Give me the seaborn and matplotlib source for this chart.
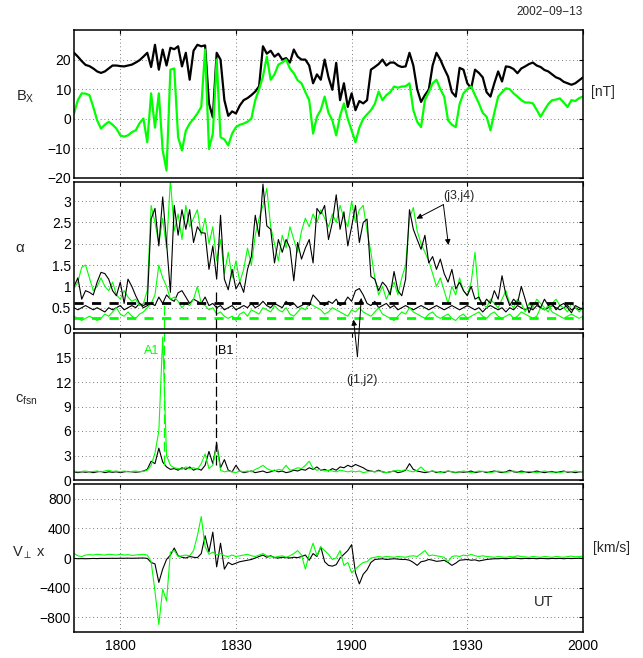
import numpy as np
import pandas as pd
import matplotlib
matplotlib.use("Agg")
import matplotlib.pyplot as plt
import seaborn as sns

sns.set_style("white")
plt.rcParams["font.family"] = ["Liberation Sans", "DejaVu Sans"]
plt.rcParams["mathtext.fontset"] = "custom"
plt.rcParams["mathtext.rm"] = "Liberation Sans"
plt.rcParams["mathtext.it"] = "Liberation Sans:italic"
plt.rcParams["axes.unicode_minus"] = True

# time axis: minutes of day, one sample per minute from 17:48 to 20:00
minutes = np.arange(1068, 1201)

tick_times = [1080, 1110, 1140, 1170, 1200]
tick_labels = ["1800", "1830", "1900", "1930", "2000"]

# panel 1 - Bx [nT]
bx_black = [22.3, 21, 19.5, 18.2, 17.8, 17, 16, 15.5, 16, 17,
            18, 18, 17.8, 17.7, 18, 18.3, 19, 19.8, 21, 22.3,
            17.5, 25, 16.6, 23.4, 18, 24, 23.5, 24.5, 17.7, 22.3,
            13.2, 23, 25, 24.5, 24.8, 5.2, 0.5, 22.3, 20, 6.3,
            1, 2.5, 1.8, 4.5, 6.3, 7, 8, 9.2, 11, 24.5,
            22, 23, 21, 22, 20, 20.5, 19, 23.4, 21, 20,
            20, 18, 12, 15, 13.2, 20, 14, 9.8, 18.9, 6.3,
            12, 4, 8.6, 2.9, 6, 5.2, 6.3, 16.6, 17.5, 18.5,
            20, 18, 19, 19, 18, 17.5, 17.7, 22.3, 18, 10,
            5.7, 8, 9.8, 18, 22.3, 20, 17, 14.3, 9, 7.5,
            17.2, 16.6, 12, 10.3, 16.6, 15.5, 14, 9, 7.5, 12,
            16, 12.6, 17.7, 17.5, 16.8, 15.4, 17, 17.7, 18.5, 19,
            18, 17.5, 16.5, 16, 15, 14, 13.5, 12.5, 12, 11.5,
            12, 13, 14]
bx_green = [1.8, 6.3, 8.6, 8.5, 8, 4, -0.5, -3.3, -2, -1,
            -2, -3.3, -5.6, -6, -5.6, -4.5, -3.9, -1.5, 0.1, -7.9,
            8.6, -3, 8.6, -10.7, -17.5, 16.6, 17, -6.2, -10.7, -4,
            -1.6, 0, 1.8, 4, 23.4, -10.2, -5, 20, -6.2, -7,
            -9, -5, -2.8, -2, -1.6, -1, 0.1, 6.3, 10, 14.3,
            21, 13.2, 15, 18.3, 19, 20, 17, 15.4, 13, 12,
            9, 6.3, -5, 0.7, 3, 7.5, 2, -0.5, -5.6, 1,
            5.2, 0, -3.9, -7.9, -3, 0, 1.5, 2.9, 5, 9.2,
            6.3, 8, 9, 10.9, 10.5, 10.9, 11, 12, 2.9, -1,
            -2.8, 6.3, 9, 12, 13.2, 10, 7.5, -0.5, -2, -2.8,
            5, 8.6, 10, 10.9, 8, 5.2, 2, 0.7, -3.9, 2,
            7.5, 9, 10.3, 10, 8.6, 7.5, 6.3, 5.5, 5.5, 5.2,
            3, 0.7, 2.9, 5, 6.3, 6.5, 6.9, 5.5, 4, 6.3,
            6, 7, 7.5]

# panel 2 - alpha for the four spacecraft pairs
alpha_j3 = [1.0, 1.2, 0.7, 0.9, 0.86, 0.8, 1.1, 1.33, 1.3, 1.17,
            0.9, 0.78, 1.1, 0.6, 1.17, 1.0, 0.78, 0.6, 0.55, 0.6,
            2.58, 2.83, 1.95, 3.1, 2.03, 0.86, 2.9, 2.2, 2.8, 2.34,
            2.8, 2.03, 2.4, 2.26, 2.25, 1.4, 1.95, 1.17, 2.67, 1.17,
            0.92, 1.4, 0.94, 1.1, 0.86, 1.4, 1.7, 2.67, 2.17, 3.4,
            2.42, 2.34, 1.55, 2.1, 1.8, 2.1, 1.9, 1.13, 2.03, 1.64,
            1.9, 2.1, 1.55, 2.83, 2.7, 2.9, 2.1, 2.5, 3.15, 2.34,
            2.75, 1.95, 2.4, 2.9, 2.03, 2.5, 2.58, 1.23, 1.17, 0.9,
            1.1, 1.0, 0.8, 1.35, 0.9, 0.78, 1.17, 2.8, 2.34, 2.1,
            1.87, 2.2, 1.55, 1.7, 1.4, 1.64, 1.3, 1.1, 1.4, 0.94,
            1.1, 0.9, 0.78, 1.0, 0.7, 0.75, 0.55, 0.7, 0.6, 0.9,
            0.7, 1.25, 0.8, 0.55, 0.7, 0.6, 1.0, 0.7, 0.38, 0.6,
            0.6, 0.5, 0.7, 0.55, 0.6, 0.45, 0.55, 0.6, 0.5, 0.38,
            0.55, 0.5, 0.46]
alpha_j1 = [0.5, 0.45, 0.5, 0.55, 0.5, 0.45, 0.5, 0.45, 0.4, 0.5,
            0.45, 0.5, 0.55, 0.45, 0.5, 0.55, 0.5, 0.6, 0.5, 0.55,
            0.6, 0.55, 0.75, 0.6, 0.8, 0.7, 0.65, 0.85, 0.9, 0.75,
            0.6, 0.7, 0.65, 0.6, 0.75, 0.55, 0.6, 0.5, 0.55, 0.45,
            0.5, 0.55, 0.45, 0.5, 0.55, 0.5, 0.6, 0.5, 0.55, 0.65,
            0.55, 0.5, 0.6, 0.55, 0.5, 0.65, 0.55, 0.6, 0.5, 0.55,
            0.6, 0.55, 0.8, 0.7, 0.6, 0.55, 0.65, 0.6, 0.7, 0.55,
            0.6, 0.75, 0.65, 0.9, 0.95, 0.8, 0.6, 0.55, 0.65, 0.5,
            0.55, 0.6, 0.5, 0.55, 0.45, 0.5, 0.55, 0.5, 0.45, 0.5,
            0.55, 0.5, 0.45, 0.5, 0.55, 0.5, 0.45, 0.5, 0.55, 0.5,
            0.45, 0.5, 0.55, 0.5, 0.45, 0.5, 0.4, 0.5, 0.55, 0.5,
            0.45, 0.5, 0.4, 0.5, 0.45, 0.55, 0.5, 0.45, 0.5, 0.45,
            0.55, 0.5, 0.45, 0.5, 0.55, 0.5, 0.45, 0.5, 0.55, 0.45,
            0.5, 0.45, 0.5]
alpha_j4 = [0.95, 1.1, 1.45, 1.5, 1.2, 0.9, 1.0, 1.2, 1.0, 0.9,
            1.1, 0.8, 0.7, 0.9, 0.75, 0.65, 0.7, 0.55, 0.6, 0.9,
            2.9, 2.5, 2.0, 2.6, 1.9, 3.5, 2.3, 2.7, 2.1, 2.9,
            2.4, 2.6, 2.8, 2.2, 2.6, 2.0, 2.4, 1.6, 2.1, 1.3,
            1.8, 1.2, 1.6, 1.1, 1.4, 1.9, 1.5, 2.2, 2.6, 2.9,
            3.3, 2.4, 2.0, 1.6, 2.2, 1.9, 2.4, 2.1, 1.8, 2.3,
            2.6, 2.4, 2.7, 2.5, 2.8, 2.6, 2.4, 2.7, 2.5, 2.9,
            2.6, 2.4, 3.0, 2.5, 2.8, 2.9, 2.3, 1.8, 1.2, 0.8,
            1.0, 0.7, 0.9, 1.1, 0.8, 1.2, 1.5, 2.6, 2.85, 2.3,
            2.0, 1.8, 1.6, 1.3, 1.0, 1.2, 0.9, 0.6, 1.0, 0.8,
            1.2, 0.9, 0.8, 1.1, 1.8, 0.7, 0.6, 0.5, 0.7, 0.6,
            0.5, 0.7, 0.9, 0.6, 0.5, 0.7, 0.6, 0.4, 0.6, 0.5,
            0.7, 0.6, 0.5, 0.4, 0.6, 0.7, 0.55, 0.5, 0.4, 0.6,
            0.5, 0.4, 0.5]
alpha_j2 = [0.3, 0.25, 0.2, 0.25, 0.3, 0.25, 0.2, 0.25, 0.35, 0.3,
            0.4, 0.5, 0.35, 0.3, 0.4, 0.3, 0.25, 0.35, 0.4, 0.5,
            0.6, 0.8, 1.5, 1.2, 1.0, 0.7, 0.75, 0.65, 0.5, 0.6,
            0.55, 0.7, 1.0, 0.6, 0.55, 0.45, 0.5, 0.35, 0.4, 0.3,
            0.25, 0.3, 0.2, 0.35, 0.4, 0.3, 0.45, 0.4, 0.35, 0.5,
            0.45, 0.4, 0.55, 0.45, 0.4, 0.5, 0.35, 0.3, 0.4, 0.5,
            0.45, 0.6, 0.55, 0.5, 0.45, 0.35, 0.4, 0.5, 0.45, 0.4,
            0.35, 0.3, 0.45, 0.4, 0.5, 0.4, 0.35, 0.3, 0.4, 0.5,
            0.35, 0.3, 0.25, 0.2, 0.3, 0.4, 0.35, 0.5, 0.4, 0.35,
            0.3, 0.25, 0.35, 0.4, 0.3, 0.25, 0.3, 0.35, 0.25, 0.2,
            0.3, 0.35, 0.25, 0.3, 0.35, 0.4, 0.3, 0.25, 0.35, 0.4,
            0.3, 0.25, 0.3, 0.35, 0.25, 0.3, 0.4, 0.35, 0.3, 0.25,
            0.3, 0.5, 0.45, 0.55, 0.4, 0.35, 0.3, 0.25, 0.3, 0.35,
            0.3, 0.25, 0.3]
alpha_thresholds = [0.6, 0.25]   # black, green

# panel 3 - c_fsn
c_black = [1.0, 0.9, 1.0, 0.95, 1.0, 0.9, 1.0, 1.05, 0.9, 1.0,
           0.95, 1.0, 0.9, 1.0, 1.05, 1.0, 0.95, 1.0, 1.1, 1.3,
           2.3, 2.0, 3.9, 2.2, 1.6, 1.3, 1.4, 1.2, 1.5, 1.3,
           1.6, 1.2, 1.4, 1.2, 1.8, 3.5, 2.0, 4.5, 1.5, 2.5,
           1.2, 1.0, 1.8, 1.1, 0.9, 1.0, 1.1, 0.9, 1.0, 1.1,
           0.9, 1.0, 1.2, 1.0, 1.1, 0.9, 1.0, 1.2, 1.1, 1.3,
           1.2, 1.5, 1.3, 1.6, 1.2, 1.3, 1.1, 1.4, 1.2, 1.6,
           1.5, 1.8, 1.6, 1.9, 1.7, 1.5, 1.2, 1.1, 1.0, 1.2,
           1.0, 0.9, 1.0, 1.1, 0.9, 1.0, 1.2, 2.0, 1.3, 1.1,
           1.0, 0.9, 1.0, 1.1, 0.9, 1.0, 0.9, 1.1, 1.0, 0.9,
           1.0, 0.95, 1.0, 1.1, 0.9, 1.0, 1.05, 0.9, 1.0, 1.1,
           1.0, 0.9, 1.0, 1.2, 1.0, 0.95, 1.1, 1.0, 0.9, 1.0,
           1.1, 1.0, 0.9, 1.0, 1.05, 0.9, 1.0, 1.1, 0.95, 1.0,
           0.9, 1.0, 1.0]
c_green = [1.1, 1.0, 1.05, 1.1, 1.0, 1.05, 1.1, 1.0, 1.1, 1.2,
           1.05, 1.1, 1.0, 1.1, 1.0, 1.05, 1.1, 1.0, 1.05, 1.2,
           1.8, 3.3, 6.0, 17.5, 3.0, 1.8, 1.5, 1.4, 1.3, 1.6,
           1.4, 1.5, 1.3, 2.0, 3.2, 1.4, 1.8, 4.3, 1.2, 1.0,
           1.1, 1.0, 0.9, 1.1, 1.0, 1.1, 1.0, 1.3, 1.5, 1.8,
           1.4, 1.2, 1.1, 1.3, 1.2, 1.8, 1.2, 1.3, 1.5, 1.4,
           1.8, 2.3, 1.4, 1.2, 1.3, 1.1, 1.2, 1.1, 1.0, 1.2,
           1.1, 1.0, 1.1, 1.0, 1.1, 0.9, 1.0, 1.1, 1.0, 1.1,
           1.0, 0.9, 1.0, 1.1, 1.2, 1.1, 1.3, 1.1, 1.0, 1.2,
           1.6, 1.1, 1.0, 1.1, 1.0, 0.9, 1.0, 1.1, 1.0, 0.95,
           1.0, 1.1, 1.0, 0.9, 1.0, 1.1, 1.05, 1.0, 0.9, 1.0,
           1.1, 1.0, 0.95, 1.0, 1.1, 1.0, 0.9, 1.0, 1.05, 1.0,
           0.9, 1.0, 1.1, 1.0, 0.95, 1.0, 0.9, 1.0, 1.05, 1.0,
           1.1, 1.0, 1.05]

# panel 4 - V perp x [km/s]
v_black = [-5, -10, -8, -10, -8, -6, -8, -5, -6, -5,
           -4, -5, -3, -4, -2, -4, -3, -2, 0, -5,
           -60, -80, -330, -150, -20, 40, 135, 30, 10, 0,
           20, 10, 5, 60, 300, 80, 350, -120, 200, -150,
           -60, -90, -70, -50, -40, -30, -20, 0, 20, 40,
           10, 30, 5, 0, 10, 5, 0, 10, 5, 20,
           40, -30, 60, 20, 150, -50, -100, -110, -90, 0,
           50, 100, 180, -200, -350, -220, -160, -60, -20, -15,
           -10, -20, -15, -10, -15, -20, -20, -30, -60, -100,
           -50, -40, -20, -30, -45, -40, -30, -60, -100, -70,
           -30, -25, -20, -30, -25, -40, -30, -20, -15, -10,
           -10, -5, -10, -5, 0, -5, -10, -5, -8, -5,
           -10, -5, -8, -10, -5, -8, -5, -10, -5, -8,
           -5, -3, -5]
v_green = [60, 30, 20, 40, 45, 40, 50, 45, 40, 50,
           45, 40, 50, 40, 45, 35, 40, 45, 50, 40,
           -50, -450, -900, -420, -580, 80, 100, 20, 30, 40,
           30, 100, 300, 560, 150, 50, 80, 40, 60, 30,
           20, 40, 20, 30, 40, 50, 30, 20, 40, 60,
           30, 20, 10, 20, 30, 10, 30, 60, 100, 40,
           -150, 50, 200, 30, 150, 100, 50, -20, 0, 100,
           -100, -60, -200, -150, -100, -60, -50, 0, 10, 20,
           10, 20, 15, 10, 20, 15, 10, 25, 30, 20,
           60, 100, 30, 40, 30, 20, 10, -50, 20, 30,
           20, 40, 30, 50, 30, 20, 30, 20, 15, 10,
           20, 15, 10, 20, 15, 30, 20, 15, 10, 20,
           15, 10, 20, 15, 10, 20, 15, 10, 20, 25,
           15, 20, 25]

# event markers
event_names = ["A1", "B1"]
event_times = [1091.4, 1104.8]
event_colors = ["#00ff00", "black"]

GREEN = "#00ff00"

bx_df = pd.DataFrame({"time": minutes, "black": bx_black, "green": bx_green})
alpha_df = pd.DataFrame({"time": minutes, "j1": alpha_j1, "j2": alpha_j2,
                         "j3": alpha_j3, "j4": alpha_j4})
c_df = pd.DataFrame({"time": minutes, "black": c_black, "green": c_green})
v_df = pd.DataFrame({"time": minutes, "black": v_black, "green": v_green})

W, H = 643, 658
fig = plt.figure(figsize=(W / 100, H / 100), dpi=100)

def px_axes(top, bottom, left=74, right=583):
    return fig.add_axes([left / W, 1 - bottom / H, (right - left) / W, (bottom - top) / H])

ax1 = px_axes(30, 178)
ax2 = px_axes(182, 329)
ax3 = px_axes(333, 480)
ax4 = px_axes(484, 632)

def style(ax, ylim, yticks, ylabels, bottom_labels=False):
    ax.set_xlim(1068, 1200)
    ax.set_ylim(*ylim)
    ax.set_xticks(tick_times)
    ax.set_xticklabels(tick_labels if bottom_labels else [])
    ax.set_yticks(yticks)
    ax.set_yticklabels(ylabels)
    ax.set_xlabel("")
    ax.set_ylabel("")
    ax.set_axisbelow(True)
    ax.grid(True, linestyle=(0, (1, 3.5)), color="0.3", lw=0.6)
    ax.tick_params(direction="in", length=3, width=0.8, top=True, right=True,
                   labelsize=10, colors="black")
    ax.tick_params(axis="y", pad=2)
    ax.tick_params(axis="x", pad=5)
    for s in ax.spines.values():
        s.set_visible(True)
        s.set_color("black")
        s.set_linewidth(1.1)

# panel 1
sns.lineplot(data=bx_df, x="time", y="black", ax=ax1, color="black", lw=1.6, errorbar=None)
sns.lineplot(data=bx_df, x="time", y="green", ax=ax1, color=GREEN, lw=1.6, errorbar=None)
style(ax1, (-20, 30), [-20, -10, 0, 10, 20], ["\u221220", "\u221210", "0", "10", "20"])

# panel 2
sns.lineplot(data=alpha_df, x="time", y="j1", ax=ax2, color="black", lw=0.8, errorbar=None)
sns.lineplot(data=alpha_df, x="time", y="j2", ax=ax2, color=GREEN, lw=0.8, errorbar=None)
sns.lineplot(data=alpha_df, x="time", y="j4", ax=ax2, color=GREEN, lw=0.8, errorbar=None)
sns.lineplot(data=alpha_df, x="time", y="j3", ax=ax2, color="black", lw=0.8, errorbar=None)
ax2.axhline(alpha_thresholds[0], color="black", lw=2.0, dashes=(3.3, 3))
ax2.axhline(alpha_thresholds[1], color=GREEN, lw=2.0, dashes=(3.3, 3))
style(ax2, (0, 3.45), [0, 0.5, 1, 1.5, 2, 2.5, 3],
      ["0", "0.5", "1", "1.5", "2", "2.5", "3"])

# panel 3
sns.lineplot(data=c_df, x="time", y="black", ax=ax3, color="black", lw=0.8, errorbar=None)
sns.lineplot(data=c_df, x="time", y="green", ax=ax3, color=GREEN, lw=0.8, errorbar=None)
style(ax3, (0, 18), [0, 3, 6, 9, 12, 15], ["0", "3", "6", "9", "12", "15"])

# panel 4
sns.lineplot(data=v_df, x="time", y="black", ax=ax4, color="black", lw=0.8, errorbar=None)
sns.lineplot(data=v_df, x="time", y="green", ax=ax4, color=GREEN, lw=0.8, errorbar=None)
style(ax4, (-1000, 1000), [-800, -400, 0, 400, 800],
      ["\u2212800", "\u2212400", "0", "400", "800"], bottom_labels=True)

# event lines A1 / B1
for name, tt, col, top2 in zip(event_names, event_times, event_colors, [0.18, 0.25]):
    ax3.axvline(tt, ymin=0.1, ymax=1, color=col, lw=0.9, dashes=(8, 3))
    ax2.axvline(tt, ymin=0, ymax=top2, color=col, lw=0.9, dashes=(8, 3))
ax3.text(event_times[0] - 1.2, 15.8, event_names[0], color=GREEN, fontsize=9,
         ha="right", va="center")
ax3.text(event_times[1] + 0.6, 15.8, event_names[1], color="black", fontsize=9,
         ha="left", va="center")

# (j3,j4) annotation
arrow = dict(arrowstyle="-|>", color="black", lw=0.7, mutation_scale=8,
             shrinkA=0, shrinkB=0)
ax2.text(1167.7, 3.13, "(j3,j4)", fontsize=9, ha="center", va="center")
ax2.annotate("", xy=(1156.8, 2.59), xytext=(1163.8, 2.92), arrowprops=arrow)
ax2.annotate("", xy=(1165.1, 1.97), xytext=(1163.8, 2.92), arrowprops=arrow)

# (j1,j2) annotation, arrows reach up into the alpha panel
ax3.text(1142.8, 12.2, "(j1,j2)", fontsize=9, ha="center", va="center")
ax3.annotate("", xy=(1140.5, 0.22), xycoords=ax2.transData,
             xytext=(1141.5, 15.1), textcoords=ax3.transData,
             arrowprops=arrow, annotation_clip=False)
ax3.annotate("", xy=(1142.5, 0.73), xycoords=ax2.transData,
             xytext=(1141.5, 15.1), textcoords=ax3.transData,
             arrowprops=arrow, annotation_clip=False)

ax4.text(1189.7, -592, "UT", fontsize=10.5, ha="center", va="center")

# labels outside the axes
def ftext(x, y, s, **kw):
    fig.text(x / W, 1 - y / H, s, **kw)

ftext(583, 12, "2002\u221209\u221213", fontsize=8.5, ha="right", va="center")
ftext(16, 97, r"$\mathregular{B_X}$", fontsize=10.5, ha="left", va="center")
ftext(591, 92, "[nT]", fontsize=10, ha="left", va="center")
ftext(15, 248, "\u03b1", fontsize=11, ha="left", va="center")
ftext(15, 400, r"$\mathregular{c_{fsn}}$", fontsize=10.5, ha="left", va="center")
ftext(12, 553, r"$\mathregular{V_{\perp}\ x}$", fontsize=10.5, ha="left", va="center")
ftext(593, 548, "[km/s]", fontsize=10, ha="left", va="center")

fig.savefig("out.png", dpi=100)
